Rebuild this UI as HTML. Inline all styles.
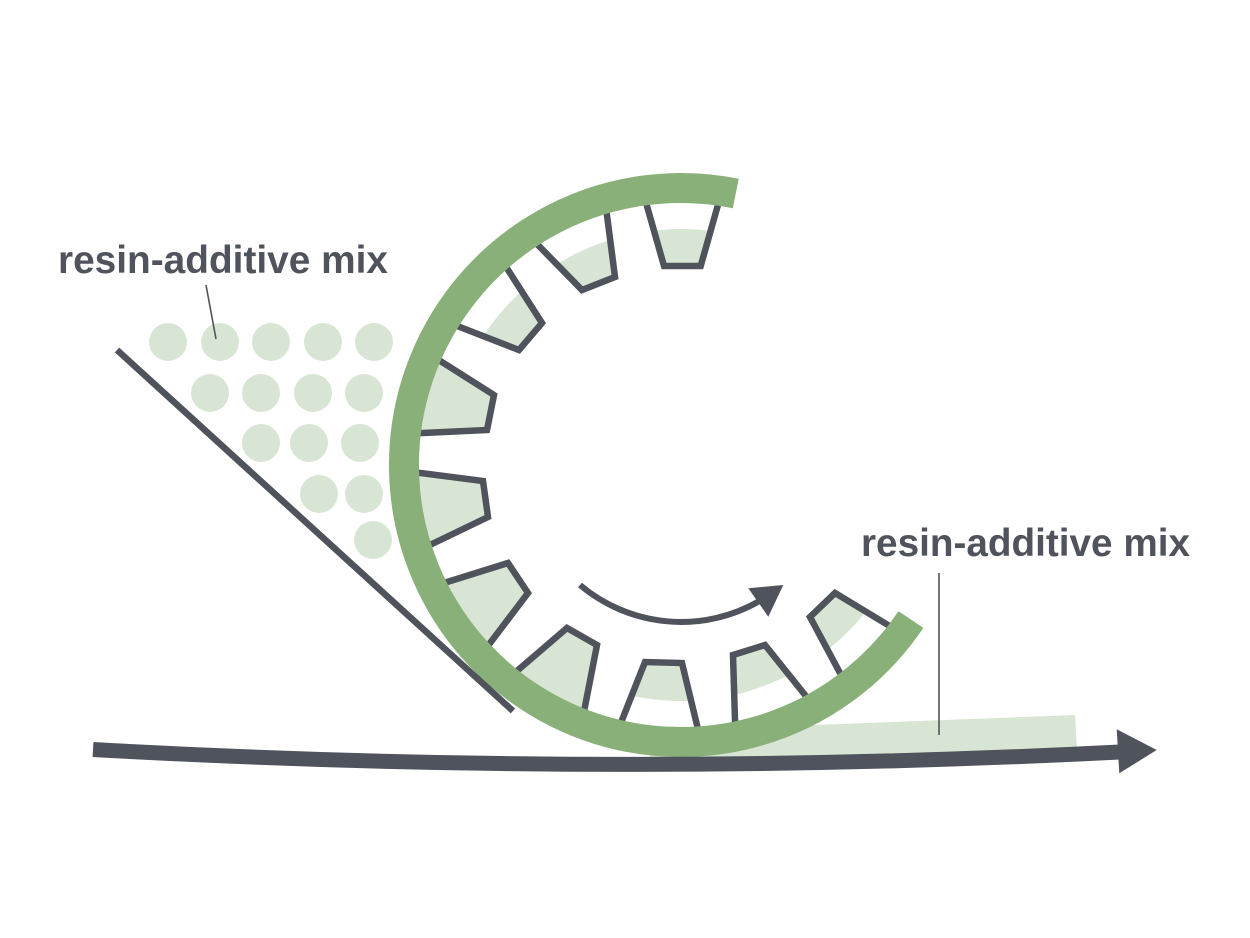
<!DOCTYPE html>
<html>
<head>
<meta charset="utf-8">
<style>
html,body{margin:0;padding:0;background:#ffffff;}
svg{display:block;}
</style>
</head>
<body>
<svg width="1250" height="938" viewBox="0 0 1250 938" xmlns="http://www.w3.org/2000/svg">
<defs>
<clipPath id="inner"><circle cx="681" cy="465" r="236"/></clipPath>
</defs>
<rect width="1250" height="938" fill="#ffffff"/>

<!-- dots -->
<g fill="#d9e5d4">
<circle cx="168" cy="342" r="19"/><circle cx="220" cy="342" r="19"/><circle cx="271" cy="342" r="19"/><circle cx="323" cy="342" r="19"/><circle cx="374" cy="342" r="19"/>
<circle cx="210" cy="393" r="19"/><circle cx="261" cy="393" r="19"/><circle cx="313" cy="393" r="19"/><circle cx="364" cy="393" r="19"/>
<circle cx="261" cy="443" r="19"/><circle cx="309" cy="443" r="19"/><circle cx="360" cy="443" r="19"/>
<circle cx="319" cy="494" r="19"/><circle cx="364" cy="494" r="19"/>
<circle cx="373" cy="540" r="19"/>
</g>

<!-- output band -->
<polygon points="650,736 800,725.5 1075,715 1077,752 650,763" fill="#d9e5d4"/>

<!-- pocket fills -->
<g fill="#d9e5d4">
<g clip-path="url(#inner)">
<polygon points="642.6,190.6 664,266 700.7,266 722,190.6"/>
<polygon points="527.5,234.3 582,290 615,277 605,200"/>
<polygon points="500,257.4 542,323 519,350 446,321.6"/>
<polygon points="616.5,734 645,662 682,663 700.5,739.6"/>
<polygon points="735.5,737 733,655 765,645 814.4,706.7"/>
<polygon points="847,686 810,617 835,593 902,633.5"/>
</g>
<polygon points="429.3,354 494,395 487,430 407,433.7"/>
<polygon points="405,471 483,481 488,517 418.5,550.5"/>
<polygon points="432.7,586.5 508,563 528,593 481,655"/>
<polygon points="506.6,679.8 567,628 597,645 582,721.7"/>
</g>

<!-- pocket walls -->
<g fill="none" stroke="#4f535c" stroke-width="6.5" stroke-linejoin="miter">
<polyline points="642.6,190.6 664,266 700.7,266 722,190.6"/>
<polyline points="527.5,234.3 582,290 615,277 605,200"/>
<polyline points="500,257.4 542,323 519,350 446,321.6"/>
<polyline points="429.3,354 494,395 487,430 407,433.7"/>
<polyline points="405,471 483,481 488,517 418.5,550.5"/>
<polyline points="432.7,586.5 508,563 528,593 481,655"/>
<polyline points="506.6,679.8 567,628 597,645 582,721.7"/>
<polyline points="616.5,734 645,662 682,663 700.5,739.6"/>
<polyline points="735.5,737 733,655 765,645 814.4,706.7"/>
<polyline points="847,686 810,617 835,593 902,633.5"/>
</g>

<!-- green drum arc -->
<path d="M735.8,193.5 A277 277 0 1 0 910.9,619.5" fill="none" stroke="#8ab07a" stroke-width="30" stroke-linecap="butt"/>

<!-- diagonal line -->
<line x1="117" y1="350" x2="513" y2="711" stroke="#4f535c" stroke-width="6.5"/>

<!-- bottom arrow -->
<path d="M93,749.5 Q607,778 1120,752" fill="none" stroke="#4f535c" stroke-width="15"/>
<polygon points="1116.7,729.3 1156.7,750 1119.3,773.3" fill="#4f535c"/>

<!-- rotation arrow -->
<path d="M580,585 A157 157 0 0 0 759.5,601" fill="none" stroke="#4f535c" stroke-width="6"/>
<polygon points="748.3,588.3 783.3,585 768.3,616.7" fill="#4f535c"/>

<!-- labels -->
<g font-family="'Liberation Sans', Arial, sans-serif" font-weight="700" font-size="39" fill="#4f535c">
<text x="58" y="273" textLength="330" lengthAdjust="spacingAndGlyphs">resin-additive mix</text>
<text x="861" y="556" textLength="329" lengthAdjust="spacingAndGlyphs">resin-additive mix</text>
</g>
<line x1="206" y1="285" x2="216" y2="339" stroke="#4f535c" stroke-width="1.6"/>
<line x1="939" y1="573" x2="939" y2="735" stroke="#4f535c" stroke-width="1.6"/>
</svg>
</body>
</html>
